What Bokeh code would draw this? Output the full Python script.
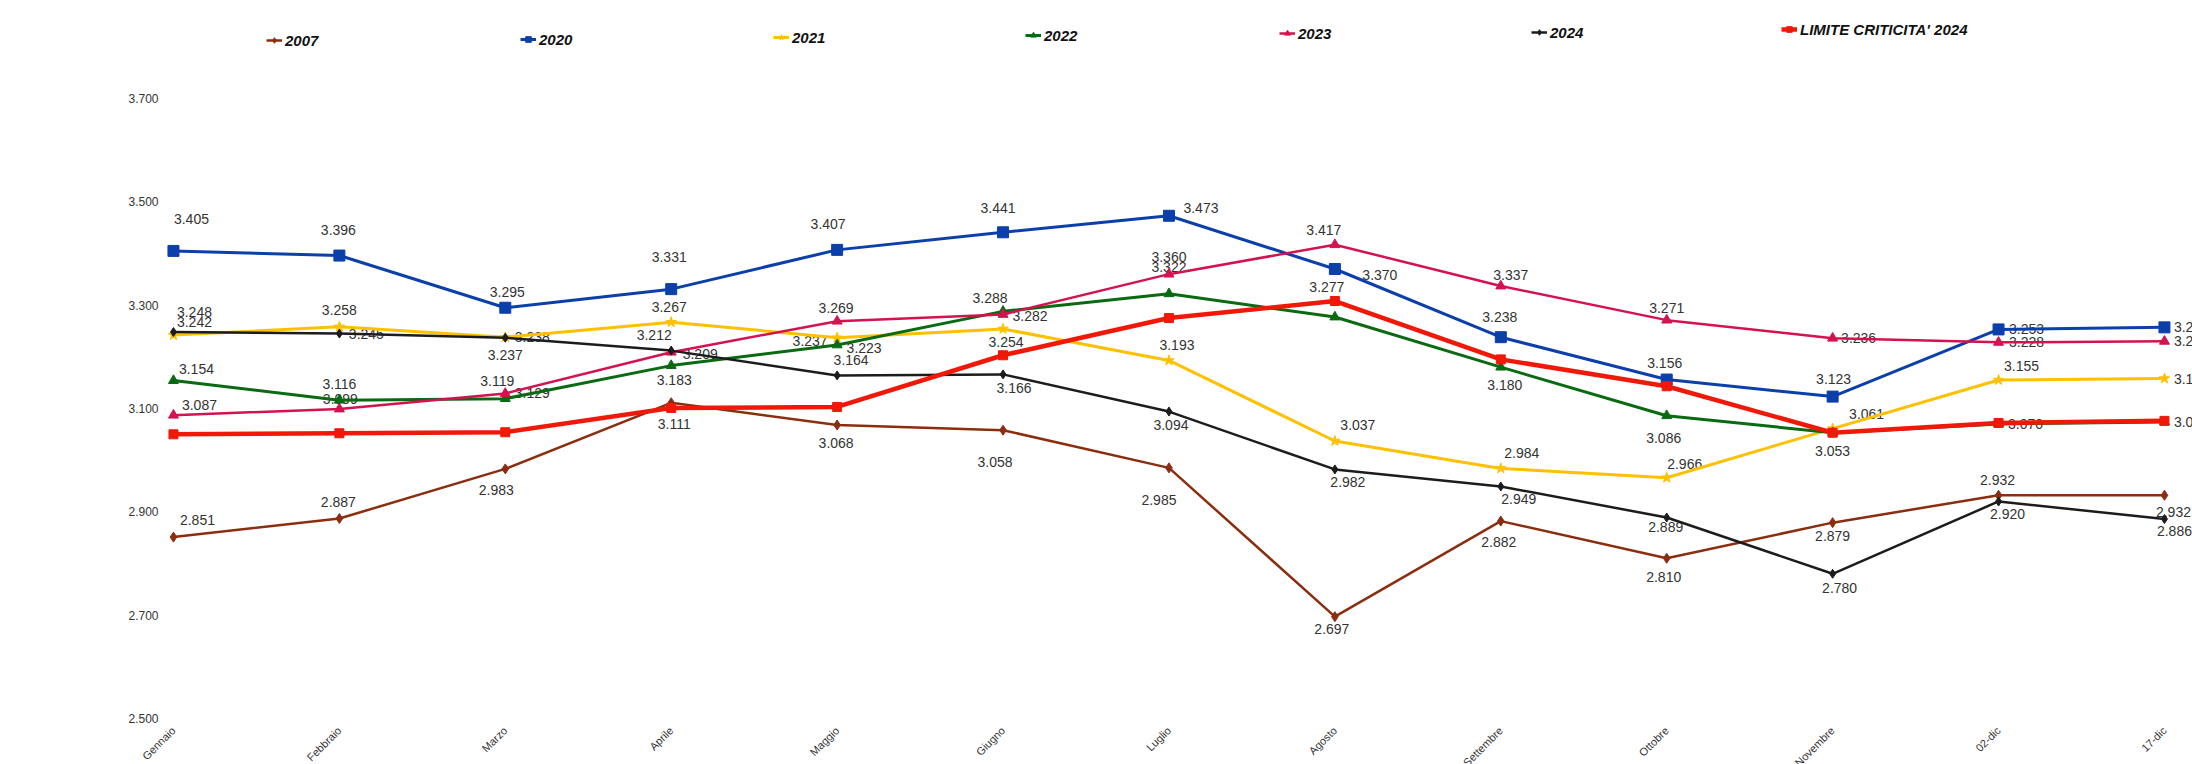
from math import pi
from bokeh.plotting import figure
from bokeh.models import (ColumnDataSource, Range1d, FixedTicker, NumeralTickFormatter,
                          Legend, LegendItem, Label)
from bokeh.core.properties import value
from bokeh.embed import file_html
from bokeh.resources import INLINE

# ---------------- data ----------------
MONTHS = ["Gennaio", "Febbraio", "Marzo", "Aprile", "Maggio", "Giugno", "Luglio",
          "Agosto", "Settembre", "Ottobre", "Novembre", "02-dic", "17-dic"]
Y_TICKS = [2.5, 2.7, 2.9, 3.1, 3.3, 3.5, 3.7]

S2007 = [2.851, 2.887, 2.983, 3.111, 3.068, 3.058, 2.985, 2.697, 2.882, 2.810, 2.879, 2.932, 2.932]
S2020 = [3.405, 3.396, 3.295, 3.331, 3.407, 3.441, 3.473, 3.370, 3.238, 3.156, 3.123, 3.253, 3.257]
S2021 = [3.242, 3.258, 3.238, 3.267, 3.237, 3.254, 3.193, 3.037, 2.984, 2.966, 3.061, 3.155, 3.158]
S2022 = [3.154, 3.116, 3.119, 3.183, 3.223, 3.288, 3.322, 3.277, 3.180, 3.086, 3.053, 3.070, 3.074]
S2023 = [3.087, 3.099, 3.129, 3.209, 3.269, 3.282, 3.360, 3.417, 3.337, 3.271, 3.236, 3.228, 3.230]
S2024 = [3.248, 3.245, 3.237, 3.212, 3.164, 3.166, 3.094, 2.982, 2.949, 2.889, 2.780, 2.920, 2.886]
LIMITE = [3.050, 3.052, 3.054, 3.101, 3.103, 3.203, 3.275, 3.308, 3.195, 3.143, 3.053, 3.072, 3.076]

NAMES = ["2007", "2020", "2021", "2022", "2023", "2024", "LIMITE CRITICITA' 2024"]
SERIES = [S2007, S2020, S2021, S2022, S2023, S2024, LIMITE]
SHOW_LABELS = [True, True, True, True, True, True, False]

# ---------------- styles ----------------
COLORS = ["#8B2E10", "#0B3FAA", "#FFC000", "#0A6A12", "#D3124F", "#1C1C1C", "#F01808"]
MARKERS = ["diamond", "square", "star", "triangle", "triangle", "diamond", "square"]
MSIZES = [10, 11, 11, 10, 10, 9, 9]
LWIDTHS = [2.5, 3, 3, 3, 2.5, 2.5, 4.5]

# label offsets in pixels (dx right, dy down) per point
OFF = {
    "2007": [(24, -17), (-1, -17), (-9, 21), (3, 21), (-1, 18), (-8, 32), (-10, 32),
             (-3, 12), (-2, 21), (-3, 19), (0, 13), (-1, -15), (9, 17)],
    "2020": [(18, -32), (-1, -26), (2, -16), (-2, -32), (-9, -26), (-5, -24), (32, -8),
             (45, 6), (-1, -20), (-2, -17), (1, -18), (28, 0), (27, 0)],
    "2021": [(21, -13), (0, -17), (27, 0), (-2, -15), (-27, 3), (3, 13), (8, -15),
             (23, -16), (21, -15), (18, -14), (34, -15), (23, -14), (27, 0)],
    "2022": [(23, -12), (0, -16), (-8, -18), (3, 14), (27, 3), (-13, -13), (0, -27),
             (-8, -30), (4, 18), (-3, 22), (0, 18), (27, 0), (27, 0)],
    "2023": [(26, -10), (1, -10), (27, 0), (29, 2), (-1, -13), (27, 2), (0, -17),
             (-11, -15), (10, -11), (0, -12), (26, 0), (28, 0), (27, 0)],
    "2024": [(21, -20), (27, 0), (0, 17), (-17, -16), (14, -15), (11, 14), (2, 13),
             (13, 13), (18, 13), (-1, 10), (7, 14), (9, 13), (10, 12)],
}

# legend item: (marker centre x, centre y) on the canvas
LEGEND_POS = [(274, 40), (528, 39), (781, 37), (1033, 35), (1287, 33), (1539, 32), (1789, 29)]

FRAME_LEFT = 165
FRAME_TOP = 0
FRAME_W = 2027
FRAME_H = 718

p = figure(frame_width=FRAME_W, frame_height=FRAME_H,
           x_range=Range1d(-0.048, 12.169), y_range=Range1d(2.4999, 3.8897),
           output_backend="svg", toolbar_location=None,
           min_border_left=FRAME_LEFT, min_border_right=0,
           min_border_top=FRAME_TOP, min_border_bottom=0)
p.outline_line_color = None
p.background_fill_color = "white"
p.border_fill_color = "white"
p.xgrid.visible = False
p.ygrid.visible = False

xs = list(range(len(MONTHS)))

# x axis
p.xaxis.ticker = FixedTicker(ticks=xs)
p.xaxis.major_label_overrides = {i: m for i, m in enumerate(MONTHS)}
p.xaxis.major_label_orientation = pi / 4
p.xaxis.axis_line_color = None
p.xaxis.major_tick_line_color = None
p.xaxis.minor_tick_line_color = None
p.xaxis.major_label_text_font = "Liberation Sans"
p.xaxis.major_label_text_font_size = "11px"
p.xaxis.major_label_text_color = "#333333"
p.xaxis.major_label_standoff = 4

# y axis
p.yaxis.ticker = FixedTicker(ticks=Y_TICKS)
p.yaxis.formatter = NumeralTickFormatter(format="0.000")
p.yaxis.axis_line_color = None
p.yaxis.major_tick_line_color = None
p.yaxis.minor_tick_line_color = None
p.yaxis.major_label_text_font = "Liberation Sans"
p.yaxis.major_label_text_font_size = "12px"
p.yaxis.major_label_text_color = "#333333"
p.yaxis.major_label_standoff = 1

# data labels (drawn first so that lines pass over them, as in the original)
for name, ser, show in zip(NAMES, SERIES, SHOW_LABELS):
    if not show:
        continue
    src = ColumnDataSource(dict(
        x=xs, y=ser, lbl=["%.3f" % v for v in ser],
        dx=[o[0] for o in OFF[name]], dy=[o[1] for o in OFF[name]]))
    p.text(x="x", y="y", text="lbl", x_offset="dx", y_offset="dy", source=src,
           text_font=value("Liberation Sans"), text_font_size="14px",
           text_color="#333333", text_align="center", text_baseline="middle")

# series lines + markers, each with its own one-item legend
for i, (name, ser) in enumerate(zip(NAMES, SERIES)):
    src = ColumnDataSource(dict(x=xs, y=ser))
    lr = p.line("x", "y", source=src, line_color=COLORS[i], line_width=LWIDTHS[i])
    sr = p.scatter("x", "y", source=src, marker=MARKERS[i], size=MSIZES[i],
                   fill_color=COLORS[i], line_color=COLORS[i])
    mx, my = LEGEND_POS[i]
    leg = Legend(items=[LegendItem(label=name, renderers=[lr, sr])],
                 location=(mx - 8 - FRAME_LEFT, (FRAME_TOP + FRAME_H) - my - 9),
                 orientation="horizontal", glyph_width=16, glyph_height=14,
                 label_standoff=3, padding=0, margin=0,
                 border_line_color=None, background_fill_alpha=0,
                 label_text_font="Liberation Sans", label_text_font_style="bold italic",
                 label_text_font_size="15px", label_text_color="#111111",
                 label_height=18)
    p.add_layout(leg)

# y-axis title
p.add_layout(Label(x=19 - FRAME_LEFT, y=(FRAME_TOP + FRAME_H) - 469,
                   x_units="screen", y_units="screen", text="Portata (L/s)",
                   angle=pi / 2, text_align="center", text_baseline="middle",
                   text_font="Liberation Sans", text_font_size="13px",
                   text_color="#333333"))

open("out.html", "w").write(file_html(p, INLINE))
